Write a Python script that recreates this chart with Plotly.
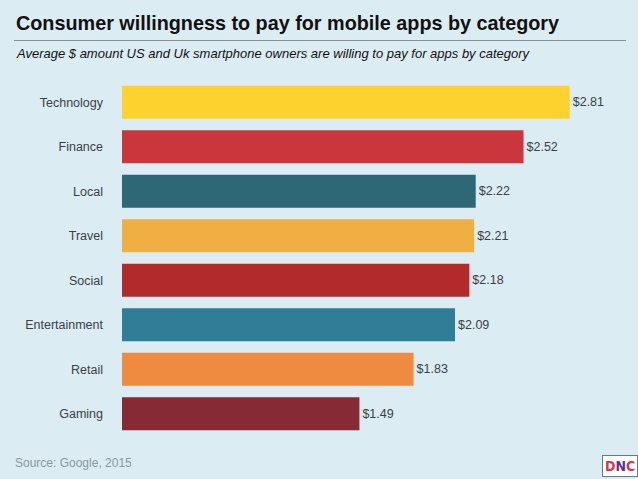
import plotly.graph_objects as go

categories = ["Technology", "Finance", "Local", "Travel", "Social", "Entertainment", "Retail", "Gaming"]
values = [2.81, 2.52, 2.22, 2.21, 2.18, 2.09, 1.83, 1.49]
colors = ["#FDD22E", "#C9373D", "#2E6877", "#EEB043", "#B32A2A", "#2F7D97", "#EF8B41", "#862B35"]
labels = ["$%.2f" % v for v in values]

W, H = 638, 479
ML, MR, MT, MB = 122, 38, 80, 43
PW, PH = W - ML - MR, H - MT - MB

def px(x):
    return (x - ML) / PW

def py(y):
    return (H - MB - y) / PH

fig = go.Figure(go.Bar(
    x=values, y=categories, orientation="h",
    marker=dict(color=colors, line=dict(width=0)),
    text=labels, textposition="outside", cliponaxis=False,
    textfont=dict(family="Liberation Sans, Arial, sans-serif", size=12.5, color="#3a3f44"),
    hoverinfo="skip",
))

fig.update_layout(
    width=W, height=H,
    margin=dict(l=ML, r=MR, t=MT, b=MB),
    paper_bgcolor="#DCECF3", plot_bgcolor="#DCECF3",
    bargap=0.26,
    showlegend=False,
    xaxis=dict(range=[0, 3.0], visible=False, fixedrange=True),
    yaxis=dict(autorange="reversed", showgrid=False, zeroline=False, showline=False,
               ticks="", ticklabelstandoff=18, fixedrange=True,
               tickfont=dict(family="Liberation Sans, Arial, sans-serif", size=12.5, color="#3a3f44")),
    font=dict(family="Liberation Sans, Arial, sans-serif"),
    annotations=[
        dict(text="<b>Consumer willingness to pay for mobile apps by category</b>",
             xref="paper", yref="paper", x=px(14), y=py(23), xanchor="left", yanchor="middle",
             showarrow=False, font=dict(size=19.8, color="#111111")),
        dict(text="<i>Average $ amount US and Uk smartphone owners are willing to pay for apps by category</i>",
             xref="paper", yref="paper", x=px(14), y=py(53), xanchor="left", yanchor="middle",
             showarrow=False, font=dict(size=13, color="#111111")),
        dict(text="Source: Google, 2015",
             xref="paper", yref="paper", x=px(13), y=py(463), xanchor="left", yanchor="middle",
             showarrow=False, font=dict(size=12, color="#8A989E")),
        dict(text="<b><span style='color:#D43A4A'>D</span><span style='color:#6B2D8E'>N</span><span style='color:#D43A4A'>C</span></b>",
             xref="paper", yref="paper", x=px(620), y=py(466), xanchor="center", yanchor="middle",
             showarrow=False, bgcolor="#FFFFFF", bordercolor="#6a7a80", borderwidth=1, borderpad=2,
             font=dict(size=14, family="DejaVu Sans Condensed, DejaVu Sans, sans-serif")),
    ],
    shapes=[
        dict(type="line", xref="paper", yref="paper", x0=px(14), x1=px(626), y0=py(40.5), y1=py(40.5),
             line=dict(color="#8C9196", width=1)),
    ],
)

fig.write_html("out.html", config={"displayModeBar": False},
               post_script="document.body.style.margin='0';document.body.style.overflow='hidden';")
